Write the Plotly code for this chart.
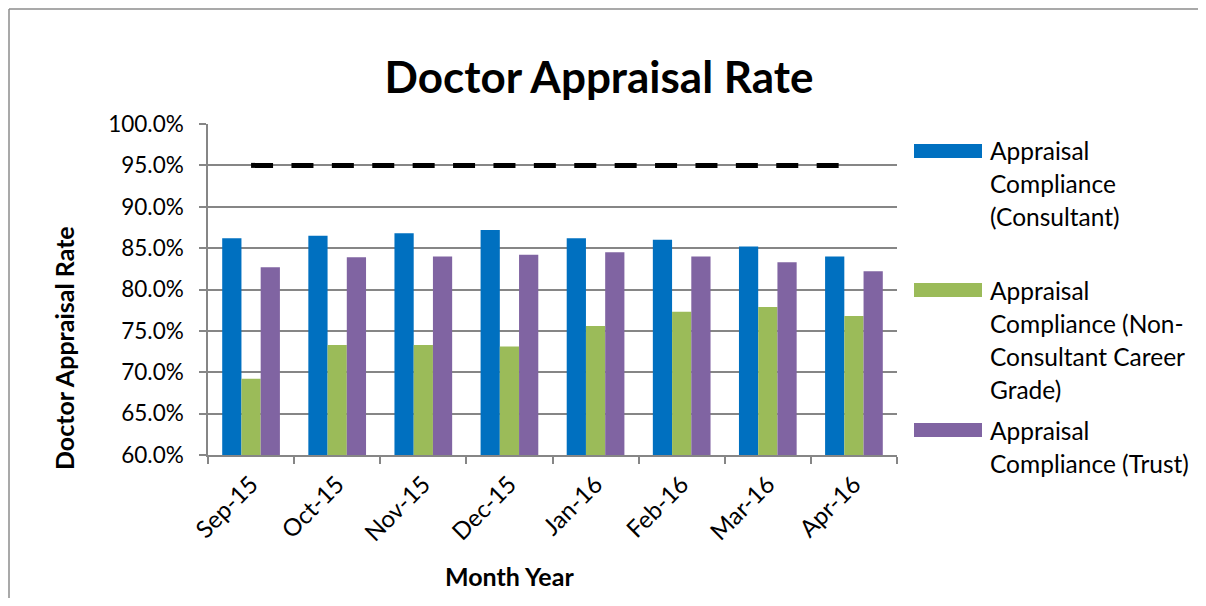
import plotly.graph_objects as go

months = ["Sep-15", "Oct-15", "Nov-15", "Dec-15", "Jan-16", "Feb-16", "Mar-16", "Apr-16"]
consultant = [0.862, 0.865, 0.868, 0.872, 0.862, 0.860, 0.852, 0.840]
non_consultant = [0.692, 0.733, 0.733, 0.731, 0.756, 0.773, 0.779, 0.768]
trust = [0.827, 0.839, 0.840, 0.842, 0.845, 0.840, 0.833, 0.822]
target = [0.95] * len(months)

series_names = ["Appraisal Compliance (Consultant)",
                "Appraisal Compliance (Non-Consultant Career Grade)",
                "Appraisal Compliance (Trust)"]
legend_lines = [["Appraisal", "Compliance", "(Consultant)"],
                ["Appraisal", "Compliance (Non-", "Consultant Career", "Grade)"],
                ["Appraisal", "Compliance (Trust)"]]
colors = ["#0070C0", "#9BBB59", "#8064A2"]

# page body has an 8px margin on every side; lay out in screen coordinates and shift,
# keeping the figure small enough that the page never needs scrollbars
OFF = 8
W, H = 1206 - 2 * OFF, 606 - 2 * OFF
L, R, T, B = 208, 897, 124, 455   # plot area in screen px
FONT = "Lato"

def px(x):
    return (x - L) / (R - L)

def py(y):
    return (B - y) / (B - T)

fig = go.Figure()
for name, vals, c in zip(series_names, [consultant, non_consultant, trust], colors):
    fig.add_trace(go.Bar(x=months, y=vals, name=name, marker=dict(color=c, line=dict(width=0)),
                         showlegend=False))
fig.add_trace(go.Scatter(x=months, y=target, mode="lines", name="Target",
                         line=dict(color="black", width=5, dash="22px,18.4px"), showlegend=False))

# chart border: only the top and left edges are inside the frame in the original
border = dict(color="#8C8C8C", width=1.5)
fig.add_shape(type="line", xref="paper", yref="paper", x0=px(OFF + 1), x1=px(1206), y0=py(OFF + 1), y1=py(OFF + 1),
              line=border, layer="below")
fig.add_shape(type="line", xref="paper", yref="paper", x0=px(OFF + 1), x1=px(OFF + 1), y0=py(OFF + 1), y1=py(606),
              line=border, layer="below")

# manual legend
sw_y = [151, 290, 430]
line_starts = [150, 290, 430]
for i, (lines, c) in enumerate(zip(legend_lines, colors)):
    fig.add_shape(type="rect", xref="paper", yref="paper", x0=px(914), x1=px(982),
                  y0=py(sw_y[i] - 7), y1=py(sw_y[i] + 7), fillcolor=c, line=dict(width=0))
    for j, t in enumerate(lines):
        fig.add_annotation(xref="paper", yref="paper", x=px(988), y=py(line_starts[i] + 33 * j),
                           text=t, showarrow=False, xanchor="left", yanchor="middle",
                           font=dict(family=FONT, size=24.5, color="black"))

# axis titles
fig.add_annotation(xref="paper", yref="paper", x=px(509), y=py(576), text="<b>Month Year</b>",
                   showarrow=False, xanchor="center", yanchor="middle",
                   font=dict(family=FONT, size=25, color="black"))
fig.add_annotation(xref="paper", yref="paper", x=px(64), y=py(348), text="<b>Doctor Appraisal Rate</b>",
                   showarrow=False, textangle=-90, xanchor="center", yanchor="middle",
                   font=dict(family=FONT, size=25, color="black"))

fig.update_layout(
    width=W, height=H,
    margin=dict(l=L - OFF, r=W - (R - OFF), t=T - OFF, b=H - (B - OFF), pad=0),
    paper_bgcolor="white", plot_bgcolor="white",
    title=dict(text="<b>Doctor Appraisal Rate</b>", xref="paper", x=px(599), xanchor="center",
               yref="container", y=1 - (78 - OFF) / H, yanchor="middle",
               font=dict(family=FONT, size=44, color="black")),
    barmode="group", bargap=0.33, bargroupgap=0,
    font=dict(family=FONT, size=22.5, color="black"),
)
fig.update_xaxes(type="category", tickson="boundaries", ticks="outside", ticklen=7, tickcolor="#868686",
                 tickwidth=1.5, showline=True, linecolor="#868686", linewidth=1.5, showgrid=False,
                 tickangle=-45, ticklabelstandoff=4, tickfont=dict(family=FONT, size=24, color="black"))
fig.update_yaxes(range=[0.6, 1.0], dtick=0.05, tickformat=".1%", ticks="outside", ticklen=7,
                 tickcolor="#868686", tickwidth=1.5, showline=True, linecolor="#868686", linewidth=1.5,
                 showgrid=True, gridcolor="#868686", gridwidth=1.5, zeroline=False,
                 ticklabelstandoff=11, tickfont=dict(family=FONT, size=22.5, color="black"))

fig.write_html("out.html")
